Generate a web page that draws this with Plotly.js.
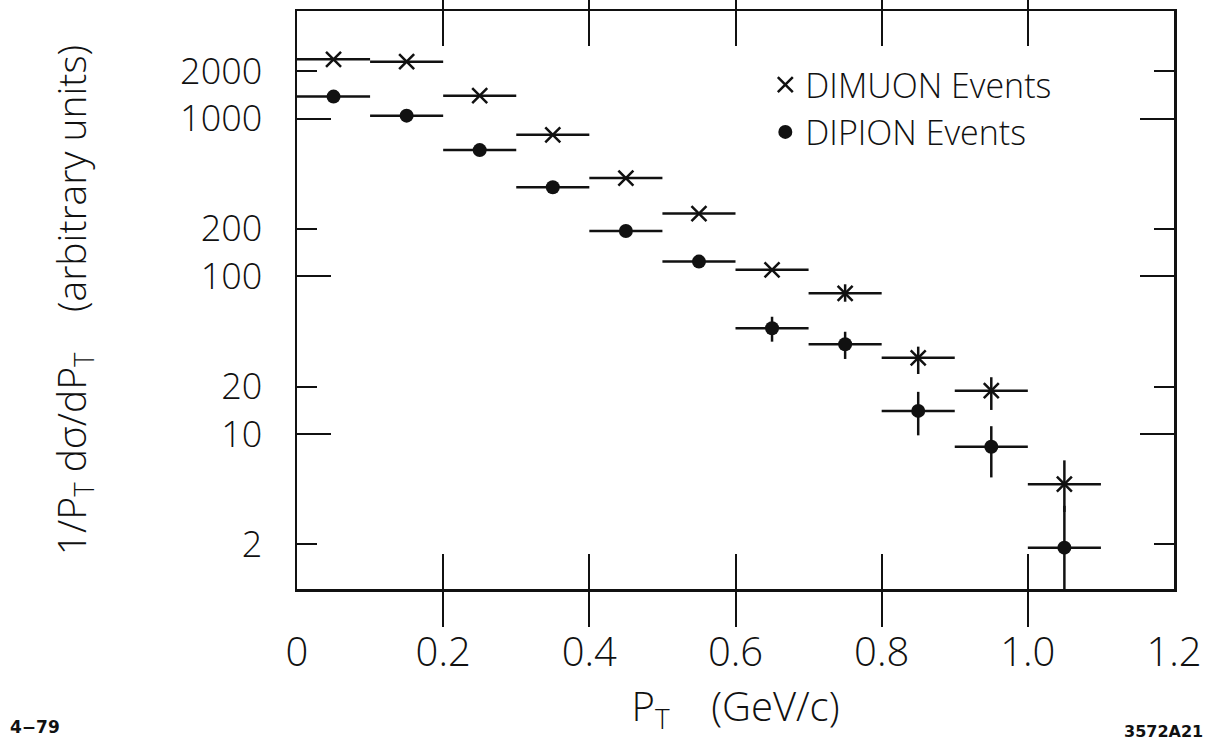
<!DOCTYPE html>
<html>
<head>
<meta charset="utf-8">
<script src="https://cdn.plot.ly/plotly-3.0.1.min.js"></script>
<style>html,body{margin:0;padding:0;background:#fff;}#chart{width:1218px;height:743px;}</style>
</head>
<body>
<div id="chart"></div>
<script>
// ---- data ----
const ptCenters = [0.05, 0.15, 0.25, 0.35, 0.45, 0.55, 0.65, 0.75, 0.85, 0.95, 1.05];
const binHalfWidth = [0.05, 0.05, 0.05, 0.05, 0.05, 0.05, 0.05, 0.05, 0.05, 0.05, 0.05];

const dimuonValues   = [2380, 2300, 1400, 790, 420, 250, 110, 78, 30.4, 18.8, 4.8];
const dimuonErrPlus  = [0, 0, 0, 0, 0, 0, 0, 11, 5.4, 4.1, 2.0];
const dimuonErrMinus = [0, 0, 0, 0, 0, 0, 0, 9, 6.4, 4.6, 1.6];

const dipionValues   = [1380, 1045, 632, 367, 194, 124, 46.8, 37.1, 14.0, 8.3, 1.9];
const dipionErrPlus  = [0, 0, 0, 0, 0, 0, 8.6, 7.4, 4.5, 2.9, 1.6];
const dipionErrMinus = [0, 0, 0, 0, 0, 0, 8.3, 7.2, 4.2, 3.0, 1.5];

const xTickVals = [0, 0.2, 0.4, 0.6, 0.8, 1.0, 1.2];
const xTickText = ['0', '0.2', '0.4', '0.6', '0.8', '1.0', '1.2'];
const yMajorVals = [10, 100, 1000];
const yMajorText = ['10', '100', '1000'];
const yMinorVals = [2, 20, 200, 2000];
const yMinorText = ['2', '20', '200', '2000'];

const FONT = 'Open Sans, DejaVu Sans, sans-serif';
const INK = '#111';

function errX() {
  return {type: 'data', array: binHalfWidth, symmetric: true, width: 0, thickness: 2.5, color: INK};
}
function errY(plus, minus) {
  return {type: 'data', array: plus, arrayminus: minus, symmetric: false, width: 0, thickness: 2.5, color: INK};
}

const traces = [
  {
    name: 'DIMUON Events',
    x: ptCenters, y: dimuonValues, xaxis: 'x', yaxis: 'y',
    mode: 'markers', type: 'scatter',
    marker: {symbol: 'x-thin', size: 15, color: INK, line: {width: 2.5, color: INK}},
    error_x: errX(), error_y: errY(dimuonErrPlus, dimuonErrMinus),
    cliponaxis: true
  },
  {
    name: 'DIPION Events',
    x: ptCenters, y: dipionValues, xaxis: 'x', yaxis: 'y2',
    mode: 'markers', type: 'scatter',
    marker: {symbol: 'circle', size: 14, color: INK},
    error_x: errX(), error_y: errY(dipionErrPlus, dipionErrMinus),
    cliponaxis: true
  }
];

const yRange = [0.0165, 3.683];
const commonY = {
  type: 'log', range: yRange, ticks: 'inside', tickwidth: 2, tickcolor: INK,
  mirror: 'allticks', showline: true, linewidth: 2.5, linecolor: INK,
  showgrid: false, zeroline: false, tickmode: 'array',
  tickfont: {family: FONT, size: 36, color: INK, weight: 300},
  ticklabelstandoff: 25
};

const layout = {
  width: 1218, height: 743,
  margin: {l: 297, r: 44, t: 11, b: 154},
  paper_bgcolor: '#fff', plot_bgcolor: '#fff',
  font: {family: FONT, color: INK},
  showlegend: true,
  legend: {
    x: 0.534, y: 0.922, xanchor: 'left', yanchor: 'top',
    bgcolor: 'rgba(0,0,0,0)', borderwidth: 0,
    font: {family: FONT, size: 34, color: INK, weight: 300},
    tracegroupgap: 0, itemclick: false
  },
  xaxis: {
    range: [0, 1.2], tickmode: 'array', tickvals: xTickVals, ticktext: xTickText,
    ticks: 'inside', ticklen: 35, tickwidth: 2, tickcolor: INK,
    mirror: 'allticks', showline: true, linewidth: 2.5, linecolor: INK,
    showgrid: false, zeroline: false,
    tickfont: {family: FONT, size: 40, color: INK, weight: 300},
    ticklabelstandoff: 26,
    title: {text: 'P<sub>T</sub>    (GeV/c)', font: {family: FONT, size: 40, color: INK, weight: 300}, standoff: 8},
    automargin: false
  },
  yaxis: Object.assign({}, commonY, {
    tickvals: yMajorVals, ticktext: yMajorText, ticklen: 34,
    title: {text: '1/P<sub>T</sub> dσ/dP<sub>T</sub>    (arbitrary units)', font: {family: FONT, size: 39, color: INK, weight: 300}, standoff: 82},
    automargin: false
  }),
  yaxis2: Object.assign({}, commonY, {
    overlaying: 'y', side: 'left', anchor: 'x',
    tickvals: yMinorVals, ticktext: yMinorText, ticklen: 20,
    automargin: false
  }),
  annotations: [
    {text: '4−79', xref: 'paper', yref: 'paper', x: -0.33, y: -0.238, xanchor: 'left', yanchor: 'middle', showarrow: false,
     font: {family: 'DejaVu Sans, sans-serif', size: 17, color: INK, weight: 'bold'}},
    {text: '3572A21', xref: 'paper', yref: 'paper', x: 1.035, y: -0.247, xanchor: 'right', yanchor: 'middle', showarrow: false,
     font: {family: 'DejaVu Sans, sans-serif', size: 16, color: INK, weight: 'bold'}}
  ]
};

Plotly.newPlot('chart', traces, layout, {staticPlot: true, displayModeBar: false});
</script>
</body>
</html>
